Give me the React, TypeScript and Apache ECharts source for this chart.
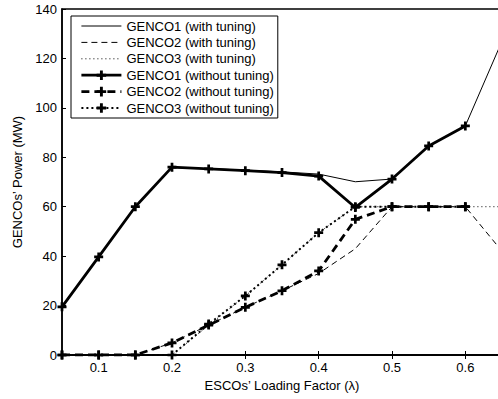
import React, { useEffect, useRef } from "react";
import * as echarts from "echarts";

const xs = [0.05, 0.1, 0.15, 0.2, 0.25, 0.3, 0.35, 0.4, 0.45, 0.5, 0.55, 0.6, 0.65];
const xTicks = [0.1, 0.2, 0.3, 0.4, 0.5, 0.6];
const genco1With = [19.5, 39.7, 60, 75.8, 75.4, 74.8, 74.1, 73.2, 70.1, 71.2, 84.6, 92.7, 127];
const genco2With = [0, 0, 0, 4.9, 12.1, 19.3, 26, 33, 43, 60, 60, 60, 42];
const genco3With = [0, 0, 0, 0, 12, 23.9, 36.5, 49.5, 60, 60, 60, 60, 60];
const genco1Without = [19.5, 39.7, 60, 76, 75.3, 74.6, 73.8, 72.4, 59.7, 71.2, 84.6, 92.7];
const genco2Without = [0, 0, 0, 4.9, 12.1, 19.3, 26, 34, 54.9, 60, 60, 60];
const genco3Without = [0, 0, 0, 0, 12.5, 23.9, 36.5, 49.5, 60, 60, 60, 60];
const names = [
  "GENCO1 (with tuning)",
  "GENCO2 (with tuning)",
  "GENCO3 (with tuning)",
  "GENCO1 (without tuning)",
  "GENCO2 (without tuning)",
  "GENCO3 (without tuning)",
];

const FONT = "'Liberation Sans', Arial, Helvetica, sans-serif";
const PLUS = "path://M-1.2,-4L1.2,-4L1.2,-1.2L4,-1.2L4,1.2L1.2,1.2L1.2,4L-1.2,4L-1.2,1.2L-4,1.2L-4,-1.2L-1.2,-1.2Z";

const pairs = (vals: number[]) => vals.map((v, i) => [xs[i], v]);

export default function App() {
  const ref = useRef<HTMLDivElement>(null);
  useEffect(() => {
    document.body.style.overflow = "hidden";
    const chart = echarts.init(ref.current!, null, { renderer: "svg" });
    const thin = (name: string, vals: number[], type: any) => ({
      name,
      type: "line",
      data: pairs(vals),
      symbol: "none",
      showSymbol: false,
      lineStyle: { color: "#000", width: 1, type },
      itemStyle: { color: "#000" },
      z: 3,
    });
    const thick = (name: string, vals: number[], type: any, width: number) => ({
      name,
      type: "line",
      data: pairs(vals),
      symbol: PLUS,
      symbolSize: 9,
      showSymbol: true,
      lineStyle: { color: "#000", width, type },
      itemStyle: { color: "#000" },
      z: 2,
    });
    const thinTypes: any[] = ["solid", [6, 4], [1, 3]];
    const thickTypes: any[] = ["solid", [8, 5], [2, 3]];
    const thickWidths = [2.8, 2.8, 2];
    const legendData = names.map((name, i) =>
      i < 3
        ? {
            name,
            itemStyle: { color: "rgba(0,0,0,0)", borderWidth: 0, opacity: 0 },
            lineStyle: { width: 1, type: thinTypes[i], color: "#000" },
          }
        : {
            name,
            itemStyle: { color: "#000" },
            lineStyle: { width: thickWidths[i - 3], type: thickTypes[i - 3], color: "#000" },
          }
    );
    const axisCommon = {
      axisLine: { show: true, lineStyle: { color: "#000", width: 1.5 } },
      splitLine: { show: false },
    };
    chart.setOption({
      animation: false,
      grid: {
        left: 62,
        top: 9,
        width: 440,
        height: 346,
        show: true,
        borderColor: "#000",
        borderWidth: 1.5,
        backgroundColor: "transparent",
      },
      legend: {
        orient: "vertical",
        left: 71,
        top: 16,
        data: legendData,
        itemWidth: 40,
        itemHeight: 12,
        itemGap: 2.4,
        padding: [3, 4, 3, 9],
        borderColor: "#000",
        borderWidth: 1,
        backgroundColor: "#fff",
        borderRadius: 0,
        textStyle: { fontFamily: FONT, fontSize: 13, color: "#000", lineHeight: 14 },
      },
      xAxis: [
        {
          type: "value",
          min: 0.05,
          max: 0.65,
          position: "bottom",
          ...axisCommon,
          axisTick: { show: true, inside: true, length: 4, customValues: xTicks, lineStyle: { color: "#000" } },
          axisLabel: {
            customValues: xTicks,
            formatter: (v: number) => String(Math.round(v * 10) / 10),
            fontFamily: FONT,
            fontSize: 13,
            color: "#000",
            margin: 6,
          },
          name: "ESCOs’ Loading Factor (λ)",
          nameLocation: "middle",
          nameGap: 24,
          nameTextStyle: { fontFamily: FONT, fontSize: 13, color: "#000" },
        },
        {
          type: "value",
          min: 0.05,
          max: 0.65,
          position: "top",
          ...axisCommon,
          axisTick: { show: true, inside: true, length: 4, customValues: xTicks, lineStyle: { color: "#000" } },
          axisLabel: { show: false, customValues: xTicks },
        },
      ],
      yAxis: [
        {
          type: "value",
          min: 0,
          max: 140,
          interval: 20,
          position: "left",
          ...axisCommon,
          axisTick: { show: true, inside: true, length: 4, lineStyle: { color: "#000" } },
          axisLabel: { fontFamily: FONT, fontSize: 13, color: "#000", margin: 5 },
          name: "GENCOs’ Power (MW)",
          nameLocation: "middle",
          nameGap: 28,
          nameTextStyle: { fontFamily: FONT, fontSize: 13, color: "#000" },
        },
        {
          type: "value",
          min: 0,
          max: 140,
          interval: 20,
          position: "right",
          ...axisCommon,
          axisTick: { show: true, inside: true, length: 4, lineStyle: { color: "#000" } },
          axisLabel: { show: false },
        },
      ],
      series: [
        thin(names[0], genco1With, thinTypes[0]),
        thin(names[1], genco2With, thinTypes[1]),
        thin(names[2], genco3With, thinTypes[2]),
        thick(names[3], genco1Without, thickTypes[0], thickWidths[0]),
        thick(names[4], genco2Without, thickTypes[1], thickWidths[1]),
        thick(names[5], genco3Without, thickTypes[2], thickWidths[2]),
      ],
    });
    return () => chart.dispose();
  }, []);
  return (
    <div
      ref={ref}
      style={{ position: "fixed", left: 0, top: 0, width: 510, height: 399, background: "#fff" }}
    />
  );
}
